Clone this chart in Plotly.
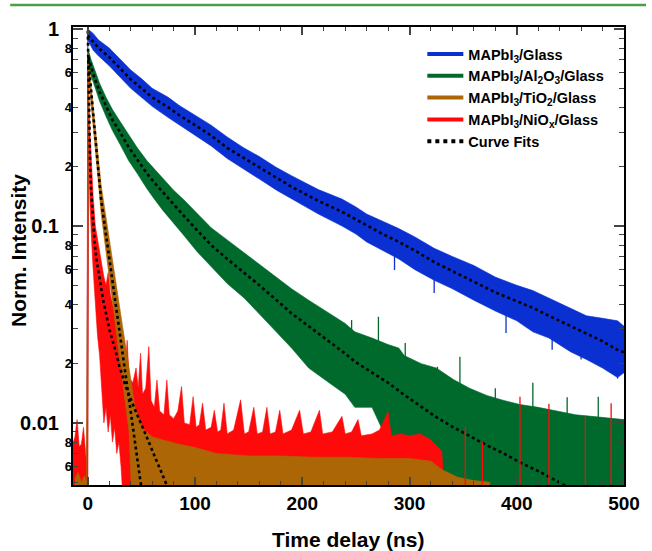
import plotly.graph_objects as go

# ---------------- data ----------------
FLOOR = 0.004  # baseline below the visible y range

# MAPbI3/Glass (blue): time, band upper / lower, fit
blue_t = [0, 5, 10, 20, 30, 40, 50, 60, 75, 85, 100, 115, 130, 145, 160, 176, 190, 200, 215, 237,
          250, 260, 275, 290, 305, 323, 340, 360, 380, 400, 415, 430, 450, 465, 480, 494, 500]
blue_hi = [1.0, 0.95, 0.88, 0.80, 0.70, 0.62, 0.56, 0.50, 0.45, 0.41, 0.365, 0.325, 0.283, 0.25, 0.225,
           0.198, 0.18, 0.168, 0.153, 0.137, 0.125, 0.115, 0.106, 0.097, 0.088, 0.077, 0.07, 0.063,
           0.055, 0.05, 0.047, 0.043, 0.038, 0.035, 0.034, 0.033, 0.031]
blue_lo = [0.88, 0.78, 0.73, 0.65, 0.57, 0.50, 0.45, 0.405, 0.355, 0.325, 0.288, 0.255, 0.22, 0.195,
           0.173, 0.152, 0.137, 0.128, 0.115, 0.100, 0.091, 0.083, 0.075, 0.068, 0.060, 0.053, 0.048,
           0.042, 0.037, 0.033, 0.029, 0.027, 0.023, 0.021, 0.019, 0.017, 0.018]
blue_fit = [0.93, 0.86, 0.80, 0.72, 0.63, 0.555, 0.50, 0.45, 0.40, 0.366, 0.325, 0.288, 0.249, 0.222,
            0.198, 0.175, 0.158, 0.148, 0.134, 0.118, 0.108, 0.100, 0.091, 0.083, 0.075, 0.0656,
            0.059, 0.052, 0.046, 0.0415, 0.0384, 0.035, 0.031, 0.0285, 0.026, 0.0235, 0.0228]
blue_spike_t = [286, 323, 390, 433, 460, 479, 494]
blue_spike_top = [0.07, 0.06, 0.04, 0.033, 0.030, 0.028, 0.026]
blue_spike_bot = [0.0598, 0.0457, 0.0286, 0.0235, 0.021, 0.0193, 0.0168]

# MAPbI3/Al2O3/Glass (green)
green_t = [0.5, 3, 6, 11, 17, 23, 30, 38, 46, 55, 62, 70, 80, 90, 102, 115, 130, 146, 160, 176,
           190, 206, 225, 240, 249, 265, 280, 290, 295, 311, 325, 341, 356, 372, 388, 403, 420, 439,
           455, 470, 485, 500]
green_hi = [0.78, 0.70, 0.63, 0.53, 0.45, 0.39, 0.34, 0.29, 0.25, 0.215, 0.195, 0.175, 0.152, 0.135,
            0.116, 0.098, 0.085, 0.073, 0.064, 0.055, 0.048, 0.042, 0.036, 0.032, 0.029, 0.027, 0.025,
            0.024, 0.022, 0.020, 0.019, 0.0166, 0.015, 0.0138, 0.013, 0.0124, 0.012, 0.0114, 0.0110,
            0.0108, 0.0106, 0.0104]
green_lo = [0.66, 0.58, 0.52, 0.43, 0.36, 0.305, 0.26, 0.215, 0.185, 0.155, 0.137, 0.12, 0.103, 0.089,
            0.074, 0.062, 0.051, 0.043, 0.036, 0.029, 0.024, 0.019, 0.016, 0.014, 0.012, 0.012, 0.008,
            FLOOR, FLOOR, FLOOR, FLOOR, FLOOR, FLOOR, FLOOR, FLOOR, FLOOR, FLOOR, FLOOR, FLOOR,
            FLOOR, FLOOR, FLOOR]
green_fit_t = [0.5, 3, 6, 11, 17, 23, 30, 38, 46, 55, 62, 70, 80, 90, 102, 115, 130, 146, 160, 176,
               190, 206, 225, 240, 249, 265, 280, 295, 311, 325, 341, 356, 372, 388, 403, 420, 439, 455]
green_fit = [0.72, 0.64, 0.57, 0.48, 0.405, 0.345, 0.30, 0.252, 0.218, 0.185, 0.166, 0.148, 0.128,
             0.112, 0.095, 0.080, 0.068, 0.058, 0.050, 0.042, 0.036, 0.031, 0.026, 0.0225, 0.0205,
             0.018, 0.016, 0.0139, 0.0121, 0.0107, 0.0095, 0.0086, 0.0077, 0.0070, 0.0063, 0.0057,
             0.0050, 0.0045]
green_spike_t = [246, 271, 296, 326, 347, 380, 415, 447, 476]
green_spike_top = [0.0333, 0.0346, 0.0255, 0.0193, 0.0217, 0.0150, 0.0160, 0.0135, 0.0136]
green_spike_bot = [0.024, 0.022, 0.018, 0.014, 0.012, 0.011, 0.0105, 0.0105, 0.0104]

# MAPbI3/TiO2/Glass (orange)
orange_t = [-12, -9, -6, -3, -1, 0.5, 3, 6.4, 9.5, 12.5, 16, 20, 26, 32, 38.5, 41, 44, 50, 60, 70,
            85, 100, 120, 150, 180, 210, 240, 270, 300, 320, 330, 345, 360, 375]
orange_hi = [0.0052, 0.0056, 0.005, 0.0054, 0.005, 0.75, 0.52, 0.33, 0.23, 0.16, 0.12, 0.085, 0.052,
             0.032, 0.019, 0.015, 0.012, 0.0095, 0.0085, 0.0082, 0.0078, 0.0075, 0.0070, 0.0068,
             0.0068, 0.0067, 0.0067, 0.0066, 0.0066, 0.0064, 0.0058, 0.0053, 0.0051, 0.005]
orange_lo = [FLOOR] * 5 + [0.62, 0.42, 0.26, 0.175, 0.115, 0.082, 0.056, 0.031, 0.017, 0.009] + [FLOOR] * 19
orange_fit_t = [0.5, 3, 6.4, 9.5, 12.5, 16, 20, 26, 32, 38.5, 44, 49, 52]
orange_fit = [0.70, 0.48, 0.296, 0.20, 0.135, 0.0986, 0.0689, 0.0402, 0.0234, 0.0131, 0.0079,
              0.0051, 0.0039]

# MAPbI3/NiOx/Glass (red): early decay band
red_early_t = [-14, -12, -10, -8, -6, -4, -2, -1, 0, 0.8, 2, 3.5, 5, 7, 9, 11, 13, 15, 17, 19, 21,
               23, 25, 27, 29, 31]
red_early_hi = [0.0078, 0.0085, 0.0104, 0.0076, 0.0078, 0.0095, 0.0070, 0.0060,
                0.66, 0.55, 0.30, 0.19, 0.14, 0.10, 0.085, 0.072, 0.062, 0.055,
                0.05, 0.058, 0.045, 0.04, 0.036, 0.034, 0.030, 0.027]
red_early_lo = [FLOOR] * 9 + [0.30, 0.13, 0.085, 0.06, 0.04, 0.028, 0.022, 0.015, 0.010,
                              0.012, 0.009, 0.011, 0.008, 0.0095, 0.007, 0.008, 0.006]
# red noise floor: upper edge incl. spikes (lower edge is below the axis)
red_floor_t = [33, 35, 36.7, 38.5, 42, 45, 47, 49.2, 51, 54, 56.9, 59, 62, 64.5, 67, 71, 73.7, 76,
               80, 84, 87.4, 90, 95, 98.2, 101, 104, 107, 110, 115, 118, 121, 124, 127, 130, 136,
               142.5, 146, 150, 154.8, 158, 163, 167, 170, 175, 179, 182, 190, 197.5, 201, 208, 216,
               219, 228, 237, 240, 246, 252, 255, 265, 272, 280, 283, 292, 300, 310, 320, 330, 333]
red_floor_hi = [0.025, 0.019, 0.0263, 0.017, 0.016, 0.019, 0.015, 0.0226, 0.014, 0.015,
                0.0244, 0.013, 0.012, 0.0165, 0.0115, 0.011, 0.0165, 0.011, 0.0105, 0.0115,
                0.0153, 0.010, 0.0098, 0.0136, 0.0095, 0.0098, 0.0126, 0.0092, 0.0095, 0.0116,
                0.009, 0.0092, 0.0126, 0.0088, 0.0092, 0.0131, 0.0088, 0.009, 0.012, 0.0088,
                0.009, 0.012, 0.0088, 0.009, 0.0116, 0.0088, 0.0092, 0.0116, 0.0088, 0.009,
                0.0116, 0.0088, 0.009, 0.0108, 0.0088, 0.009, 0.0104, 0.0086, 0.0088, 0.0092,
                0.0114, 0.0086, 0.0088, 0.0086, 0.0088, 0.0082, 0.0072, FLOOR]
red_spike_t = [352, 368, 403, 430, 464, 488]
red_spike_y = [0.0095, 0.008, 0.0136, 0.0125, 0.0108, 0.0126]
red_fit_t = [0, 0.5, 1, 1.5, 2.2, 3, 4, 5, 6.4, 8, 9.5, 11, 14, 17, 20, 24.8, 29.4, 35, 41, 46, 50.8,
             56, 62, 67, 72, 76]
red_fit = [0.98, 0.62, 0.42, 0.30, 0.20, 0.155, 0.125, 0.105, 0.082, 0.068, 0.060, 0.053, 0.043,
           0.036, 0.030, 0.0244, 0.0195, 0.0155, 0.0128, 0.011, 0.0096, 0.0082, 0.0068, 0.0059,
           0.0051, 0.0045]

# legend labels / tick labels
names = ["MAPbI<sub>3</sub>/Glass", "MAPbI<sub>3</sub>/Al<sub>2</sub>O<sub>3</sub>/Glass",
         "MAPbI<sub>3</sub>/TiO<sub>2</sub>/Glass", "MAPbI<sub>3</sub>/NiO<sub>x</sub>/Glass"]
fit_name = "Curve Fits"
x_ticks = [0, 100, 200, 300, 400, 500]
y_major = [0.01, 0.1, 1]
y_major_text = ["0.01", "0.1", "1"]
y_minor_lab = [0.006, 0.008, 0.02, 0.04, 0.06, 0.08, 0.2, 0.4, 0.6, 0.8]
y_minor_text = ["6", "8", "2", "4", "6", "8", "2", "4", "6", "8"]

# ---------------- styling ----------------
C_BLUE = "#0a30d2"
C_GREEN = "#006a2c"
C_ORANGE = "#ad6605"
C_RED = "#ff0a0a"
FONT = "Liberation Sans, Arial, sans-serif"

red_t = red_early_t + red_floor_t
red_hi = red_early_hi + red_floor_hi
red_lo = red_early_lo + [FLOOR] * len(red_floor_t)


def band(t, hi, lo, color, pre=None):
    xs = list(t) + list(t)[::-1]
    ys = list(hi) + list(lo)[::-1]
    if pre is not None:
        xs = [pre] + xs + [pre]
        ys = [FLOOR] + ys + [FLOOR]
    return go.Scatter(x=xs, y=ys, fill="toself", fillcolor=color, mode="lines",
                      line=dict(color=color, width=0.6), showlegend=False, hoverinfo="skip")


def spikes(t, top, bot, color, yaxis="y"):
    sx, sy = [], []
    for a, b, c in zip(t, top, bot):
        sx += [a, a, None]
        sy += [c, b, None]
    return go.Scatter(x=sx, y=sy, mode="lines", line=dict(color=color, width=1.3),
                      showlegend=False, hoverinfo="skip", yaxis=yaxis)


fig = go.Figure()
fig.add_trace(band(blue_t, blue_hi, blue_lo, C_BLUE, pre=-0.6))
fig.add_trace(spikes(blue_spike_t, blue_spike_top, blue_spike_bot, C_BLUE))
fig.add_trace(band(green_t, green_hi, green_lo, C_GREEN, pre=-0.3))
fig.add_trace(spikes(green_spike_t, green_spike_top, green_spike_bot, C_GREEN))
fig.add_trace(band(red_t, red_hi, red_lo, C_RED))
fig.add_trace(band(orange_t, orange_hi, orange_lo, C_ORANGE))

# fits
for ft, fv in [(blue_t, blue_fit), (green_fit_t, green_fit),
               (orange_fit_t, orange_fit), (red_fit_t, red_fit)]:
    fig.add_trace(go.Scatter(x=ft, y=fv, mode="lines", showlegend=False, hoverinfo="skip",
                             line=dict(color="black", width=2.6, dash="dot")))

# late red noise spikes drawn on the overlaid axis (same scale), above the green fill
fig.add_trace(spikes(red_spike_t, red_spike_y, [FLOOR] * len(red_spike_t), C_RED, yaxis="y2"))

# legend entries
for nm, c in zip(names, [C_BLUE, C_GREEN, C_ORANGE, C_RED]):
    fig.add_trace(go.Scatter(x=[None], y=[None], mode="lines", name=nm,
                             line=dict(color=c, width=4)))
fig.add_trace(go.Scatter(x=[None], y=[None], mode="lines", name=fit_name,
                         line=dict(color="black", width=4, dash="dot")))

fig.update_layout(
    width=652, height=551,
    margin=dict(l=73, r=19, t=27, b=66),
    paper_bgcolor="white", plot_bgcolor="white",
    font=dict(family=FONT, color="black"),
    showlegend=True,
    legend=dict(x=0.634, y=0.976, xanchor="left", yanchor="top", bgcolor="rgba(0,0,0,0)",
                font=dict(family=FONT, size=14.5, weight="bold", color="black"),
                itemwidth=36, tracegroupgap=0),
    xaxis=dict(range=[-13.8, 500], tickvals=x_ticks, ticks="inside", ticklen=8, tickwidth=1.5,
               showline=True, linewidth=2, linecolor="black", mirror="ticks",
               showgrid=False, zeroline=False,
               tickfont=dict(family=FONT, size=19, weight="bold"),
               minor=dict(dtick=20, tick0=0, ticks="inside", ticklen=4, tickwidth=1.2)),
    yaxis=dict(type="log", range=[-2.315, 0.0102], tickvals=y_major, ticktext=y_major_text,
               ticks="inside", ticklen=10, tickwidth=1.5, showline=True, linewidth=2,
               linecolor="black", mirror="ticks", showgrid=False, zeroline=False,
               tickfont=dict(family=FONT, size=20, weight="bold"), ticklabelstandoff=8,
               minor=dict(tickvals=[0.005, 0.006, 0.007, 0.008, 0.009, 0.02, 0.03, 0.04, 0.05,
                                    0.06, 0.07, 0.08, 0.09, 0.2, 0.3, 0.4, 0.5, 0.6, 0.7, 0.8, 0.9],
                          ticks="inside", ticklen=5, tickwidth=1.2)),
    yaxis2=dict(type="log", range=[-2.315, 0.0102], overlaying="y", anchor="x", side="left",
                tickvals=y_minor_lab, ticktext=y_minor_text, ticks="", showline=False,
                showgrid=False, zeroline=False, ticklabelstandoff=0,
                tickfont=dict(family=FONT, size=13, weight="bold")),
    annotations=[
        dict(text="Norm. Intensity", xref="paper", yref="paper", x=-0.098, y=0.511,
             textangle=-90, showarrow=False, xanchor="center", yanchor="middle",
             font=dict(family=FONT, size=21, weight="bold")),
        dict(text="Time delay (ns)", xref="paper", yref="paper", x=0.5, y=-0.12,
             showarrow=False, xanchor="center", yanchor="middle",
             font=dict(family=FONT, size=21, weight="bold")),
    ],
    shapes=[dict(type="line", xref="paper", yref="paper", x0=-0.114, x1=1.04, y0=1.048, y1=1.048,
                 line=dict(color="#4a9e4a", width=2.5))],
)

fig.write_html("out.html")
